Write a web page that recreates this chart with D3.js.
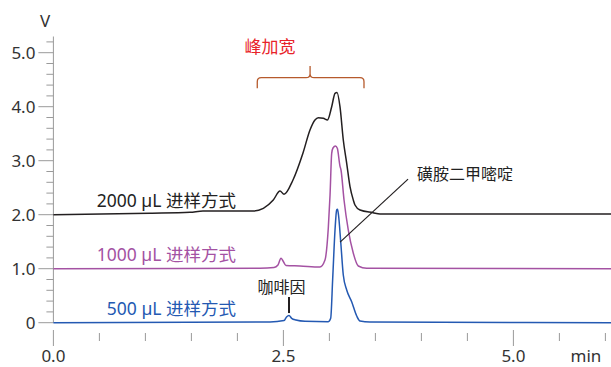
<!DOCTYPE html>
<html><head><meta charset="utf-8">
<script src="https://cdn.jsdelivr.net/npm/d3@7/dist/d3.min.js"></script>
<style>
html,body{margin:0;padding:0;background:#fff;}
svg{display:block;font-family:"Noto Sans","Noto Sans CJK SC",sans-serif;}
</style></head>
<body>
<svg id="c" width="611" height="367"></svg>
<script>
// ---- data ----
const seriesNames = ["500 µL 进样方式", "1000 µL 进样方式", "2000 µL 进样方式"];
const seriesColors = ["#2459b2", "#a452a3", "#231f20"];

const t500 = [0, 2.354, 2.507, 2.534, 2.561, 2.59, 2.637, 2.735, 2.988, 3.014, 3.036, 3.061, 3.079, 3.088, 3.099, 3.123, 3.151, 3.188, 3.242, 3.297, 3.333, 3.441, 6.1];
const v500 = [0, 0.013, 0.04, 0.106, 0.133, 0.081, 0.05, 0.026, 0.019, 0.081, 0.822, 1.717, 2.087, 2.10, 1.994, 1.5, 0.883, 0.606, 0.389, 0.124, 0.031, 0.013, 0];

const t1000 = [0, 2.246, 2.398, 2.441, 2.474, 2.496, 2.528, 2.68, 2.897, 2.952, 2.988, 3.007, 3.025, 3.039, 3.066, 3.086, 3.115, 3.126, 3.159, 3.205, 3.26, 3.314, 3.405, 6.1];
const v1000 = [1.0, 1.007, 1.022, 1.069, 1.193, 1.143, 1.059, 1.05, 1.031, 1.161, 1.754, 2.365, 3.137, 3.235, 3.272, 3.23, 2.9, 2.828, 2.272, 1.717, 1.285, 1.05, 1.007, 1.0];

const t2000 = [0, 1.05, 1.485, 1.626, 1.81, 2.173, 2.282, 2.39, 2.463, 2.507, 2.604, 2.713, 2.789, 2.843, 2.879, 2.934, 2.979, 3.025, 3.061, 3.083, 3.115, 3.151, 3.188, 3.224, 3.26, 3.278, 3.333, 3.474, 3.55, 6.1];
const v2000 = [2.0, 2.026, 2.044, 2.068, 2.068, 2.068, 2.118, 2.272, 2.439, 2.378, 2.643, 3.143, 3.569, 3.754, 3.796, 3.785, 3.754, 4.0, 4.248, 4.263, 4.0, 3.383, 2.952, 2.519, 2.272, 2.18, 2.087, 2.037, 2.013, 2.013];

const yMajorTicks = [0, 1, 2, 3, 4, 5];
const yTickLabels = ["0", "1.0", "2.0", "3.0", "4.0", "5.0"];
const xMajorTicks = [0, 2.5, 5];
const xTickLabels = ["0.0", "2.5", "5.0"];

const broadenLabel = "峰加宽";
const sulfaLabel = "磺胺二甲嘧啶";
const caffeineLabel = "咖啡因";

// ---- scales ----
const svg = d3.select("#c");
const x = d3.scaleLinear().domain([0, 6]).range([53.4, 605.4]);
const y = d3.scaleLinear().domain([0, 5]).range([322.7, 52.7]);
const axisColor = "#9a9a9a";
const textColor = "#333";

// y axis
const yAxisG = svg.append("g");
yAxisG.append("line").attr("x1", x(0)).attr("x2", x(0))
  .attr("y1", y(5.3)).attr("y2", y(0)).attr("stroke", axisColor).attr("stroke-width", 1);
const yMinor = d3.range(0, 27).map(i => i * 0.2).filter(v => Math.abs(v - Math.round(v)) > 1e-6);
yAxisG.selectAll("line.minor").data(yMinor).join("line").attr("class", "minor")
  .attr("x1", x(0) - 7).attr("x2", x(0)).attr("y1", d => y(d)).attr("y2", d => y(d))
  .attr("stroke", axisColor);
yAxisG.selectAll("line.major").data(yMajorTicks).join("line").attr("class", "major")
  .attr("x1", x(0) - 15).attr("x2", x(0)).attr("y1", d => y(d)).attr("y2", d => y(d))
  .attr("stroke", axisColor);
yAxisG.selectAll("text").data(yMajorTicks).join("text")
  .attr("x", x(0) - 18).attr("y", d => y(d)).attr("dy", "0.36em")
  .attr("text-anchor", "end").attr("font-size", 17).attr("fill", textColor)
  .text((d, i) => yTickLabels[i]);
svg.append("text").attr("x", 45).attr("y", 27).attr("text-anchor", "middle")
  .attr("font-size", 17).attr("fill", textColor).text("V");

// x axis
const xAxisG = svg.append("g");
const xMinor = d3.range(0, 13).map(i => i * 0.5).filter(v => xMajorTicks.indexOf(v) < 0);
xAxisG.selectAll("line.minor").data(xMinor).join("line").attr("class", "minor")
  .attr("x1", d => x(d)).attr("x2", d => x(d)).attr("y1", 333).attr("y2", 341)
  .attr("stroke", axisColor);
xAxisG.selectAll("line.major").data(xMajorTicks).join("line").attr("class", "major")
  .attr("x1", d => x(d)).attr("x2", d => x(d)).attr("y1", 330).attr("y2", 346)
  .attr("stroke", axisColor);
xAxisG.selectAll("text").data(xMajorTicks).join("text")
  .attr("x", d => x(d)).attr("y", 362).attr("text-anchor", "middle")
  .attr("font-size", 17).attr("fill", textColor).text((d, i) => xTickLabels[i]);
svg.append("text").attr("x", 586).attr("y", 362).attr("text-anchor", "middle")
  .attr("font-size", 17).attr("fill", textColor).text("min");

// traces
const traces = [[t500, v500], [t1000, v1000], [t2000, v2000]];
const line = d3.line().x(d => x(d[0])).y(d => y(d[1])).curve(d3.curveMonotoneX);
traces.forEach((tr, i) => {
  const pts = tr[0].map((t, j) => [t, tr[1][j]]);
  svg.append("path").attr("d", line(pts)).attr("fill", "none")
    .attr("stroke", seriesColors[i]).attr("stroke-width", 1.5).attr("stroke-linejoin", "round");
});

// series labels
const labelBase = [0, 1, 2];
labelBase.forEach((b, i) => {
  svg.append("text").attr("x", 236).attr("y", y(b) - 8)
    .attr("text-anchor", "end").attr("font-size", 17.5).attr("fill", i === 2 ? "#222" : seriesColors[i])
    .text(seriesNames[i]);
});

// brace annotation (peak broadening)
const braceL = 2.216, braceR = 3.376, braceC = 2.79;
const bBot = 4.34, bMid = 4.537, bTop = 4.754;
const r = 4;
const bp = d3.path();
bp.moveTo(x(braceL), y(bBot));
bp.lineTo(x(braceL), y(bMid) + r);
bp.quadraticCurveTo(x(braceL), y(bMid), x(braceL) + r, y(bMid));
bp.lineTo(x(braceC) - r, y(bMid));
bp.quadraticCurveTo(x(braceC), y(bMid), x(braceC), y(bMid) - r);
bp.lineTo(x(braceC), y(bTop));
bp.moveTo(x(braceC), y(bMid) - r);
bp.quadraticCurveTo(x(braceC), y(bMid), x(braceC) + r, y(bMid));
bp.lineTo(x(braceR) - r, y(bMid));
bp.quadraticCurveTo(x(braceR), y(bMid), x(braceR), y(bMid) + r);
bp.lineTo(x(braceR), y(bBot));
svg.append("path").attr("d", bp.toString()).attr("fill", "none")
  .attr("stroke", "#b65a2c").attr("stroke-width", 1.3);
svg.append("text").attr("x", 270).attr("y", 53).attr("text-anchor", "middle")
  .attr("font-size", 17).attr("fill", "#e8232a").text(broadenLabel);

// sulfamethazine leader
svg.append("line").attr("x1", x(3.116)).attr("y1", y(1.493)).attr("x2", x(3.855)).attr("y2", y(2.659))
  .attr("stroke", "#231f20").attr("stroke-width", 1.2);
svg.append("text").attr("x", 417).attr("y", 180).attr("font-size", 16).attr("fill", "#222").text(sulfaLabel);

// caffeine leader
svg.append("line").attr("x1", x(2.561)).attr("x2", x(2.561)).attr("y1", y(0.476)).attr("y2", y(0.179))
  .attr("stroke", "#231f20").attr("stroke-width", 2);
svg.append("text").attr("x", 281.5).attr("y", 293).attr("text-anchor", "middle")
  .attr("font-size", 16).attr("fill", "#222").text(caffeineLabel);
</script>
</body></html>
